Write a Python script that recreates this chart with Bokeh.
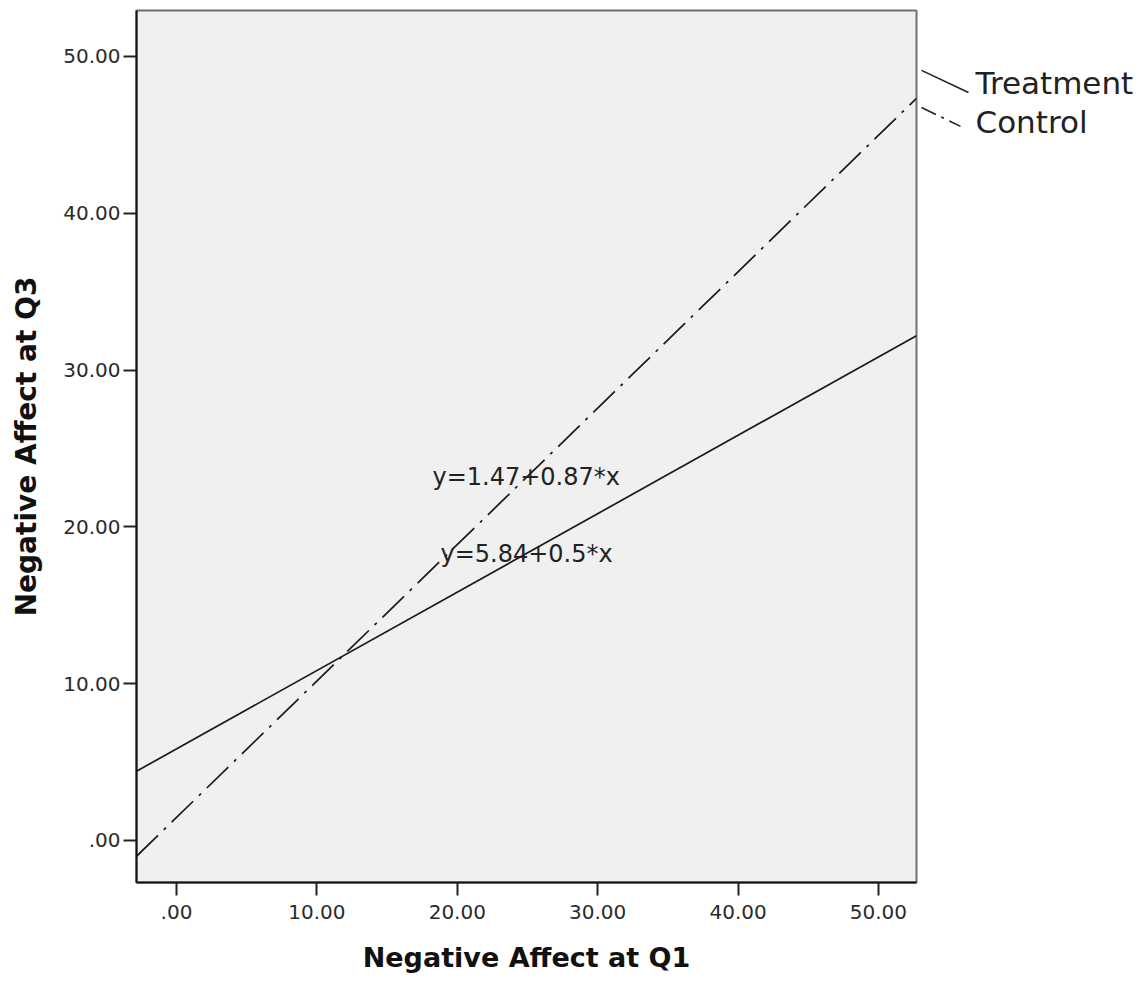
from bokeh.plotting import figure
from bokeh.layouts import row
from bokeh.models import Range1d, Label, FixedTicker
from bokeh.core.properties import value
from bokeh.embed import file_html
from bokeh.resources import INLINE

# ---- data ----
groups = ["Treatment", "Control"]
intercepts = [5.84, 1.47]
slopes = [0.5, 0.87]
equations = ["y=5.84+0.5*x", "y=1.47+0.87*x"]
ticks = [0, 10, 20, 30, 40, 50]
tick_labels = [".00", "10.00", "20.00", "30.00", "40.00", "50.00"]
x_title = "Negative Affect at Q1"
y_title = "Negative Affect at Q3"

X0, X1 = -2.85, 52.71
Y0, Y1 = -2.68, 52.93

H = 981
p = figure(width=918, height=H, output_backend="svg", toolbar_location=None,
           x_range=Range1d(X0, X1), y_range=Range1d(Y0, Y1),
           min_border_left=136, min_border_right=2, min_border_top=10, min_border_bottom=99)

p.background_fill_color = "#f0f0f0"
p.border_fill_color = "white"
p.outline_line_color = "#707070"
p.outline_line_width = 2
p.grid.visible = False

for ax, title in ((p.xaxis[0], x_title), (p.yaxis[0], y_title)):
    ax.ticker = FixedTicker(ticks=ticks)
    ax.major_label_overrides = {t: l for t, l in zip(ticks, tick_labels)}
    ax.minor_tick_line_color = None
    ax.major_tick_in = 0
    ax.major_tick_out = 13
    ax.major_tick_line_color = "#222222"
    ax.major_tick_line_width = 2
    ax.axis_line_color = "#111111"
    ax.axis_line_width = 2
    ax.major_label_text_font = "DejaVu Sans"
    ax.major_label_text_font_size = "20px"
    ax.major_label_text_color = "#2a2a2a"
    ax.axis_label = title
    ax.axis_label_text_font = "DejaVu Sans"
    ax.axis_label_text_font_style = "bold"
    ax.axis_label_text_color = "#111111"

p.xaxis.axis_label_text_font_size = "27px"
p.yaxis.axis_label_text_font_size = "28px"
p.xaxis.major_label_standoff = 9
p.xaxis.axis_label_standoff = 20
p.yaxis.major_label_standoff = 3
p.yaxis.axis_label_standoff = 17

styles = {"Treatment": "solid", "Control": "30 8 3 8"}
for g, a, b in zip(groups, intercepts, slopes):
    xs = [X0, X1]
    ys = [a + b * X0, a + b * X1]
    p.line(xs, ys, line_color="#1a1a1a", line_width=1.7, line_dash=styles[g])

# regression equation labels
eq_pos = {"Treatment": (18.8, 18.3), "Control": (18.23, 23.2)}
for g, eq in zip(groups, equations):
    ex, ey = eq_pos[g]
    p.add_layout(Label(x=ex, y=ey, text=eq, text_font="DejaVu Sans", text_font_size="24px",
                       text_color="#222222", text_baseline="middle", text_align="left"))

# side panel with line labels, sharing the y scale
q = figure(width=220, height=H, output_backend="svg", toolbar_location=None,
           x_range=Range1d(0, 220), y_range=p.y_range,
           x_axis_type=None, y_axis_type=None,
           min_border_left=0, min_border_right=0, min_border_top=10, min_border_bottom=99)
q.outline_line_color = None
q.grid.visible = False
q.background_fill_color = "white"
q.border_fill_color = "white"

lab_pos = {"Treatment": (57, 48.28), "Control": (57, 45.85)}
lead = {"Treatment": (3, 49.11, 50, 47.70), "Control": (3, 46.75, 42, 45.54)}
lead_dash = {"Treatment": "solid", "Control": "16 6 3 6"}
for g in groups:
    xs_, ys_, xe_, ye_ = lead[g]
    q.line([xs_, xe_], [ys_, ye_], line_color="#222222", line_width=1.6, line_dash=lead_dash[g])
    lx, ly = lab_pos[g]
    q.text(x=[lx], y=[ly], text=[g], text_font=value("DejaVu Sans"), text_font_size="31px",
           text_color="#222222", text_baseline="middle", text_align="left")

layout = row(p, q, spacing=0)
open("out.html", "w").write(file_html(layout, INLINE))
